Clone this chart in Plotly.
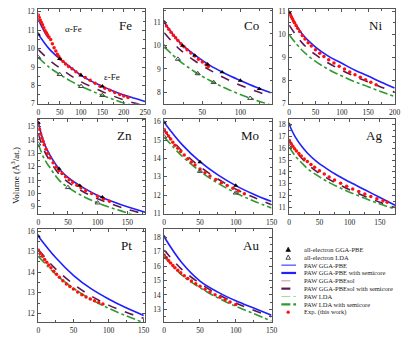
import plotly.graph_objects as go

W, H = 403, 338

# ---------------- data (pressure in GPa, volume in A^3/atom) ----------------
# Fe
fe_p = [0, 25, 50, 75, 100, 125, 150, 175, 200, 225, 250]
fe_pbe = [10.78, 10.0, 9.45, 9.0, 8.55, 8.22, 7.95, 7.7, 7.48, 7.3, 7.13]
fe_pbesol = [9.95, 9.4, 8.95, 8.55, 8.2, 7.92, 7.66, 7.43, 7.22, 7.04, 6.9]
fe_lda = [9.52, 9.0, 8.6, 8.25, 7.95, 7.7, 7.46, 7.25, 7.05, 6.88, 6.72]
fe_alpha_p = [0, 9, 18, 25]
fe_alpha_pbe = [11.6, 11.15, 10.78, 10.55]
fe_ae_p = [0, 50, 100, 150]
fe_ae_pbe = [10.78, 9.45, 8.55, 7.95]
fe_ae_lda = [9.52, 8.6, 7.95, 7.46]
fe_exp_p = [0, 2, 4.6, 7, 10, 13, 16, 19, 21.5, 25, 29, 33, 37, 41, 44.6, 48, 52, 58, 64, 71,
            79, 88, 98, 110, 121.5, 133, 144.6, 156, 167.7, 179, 190.8, 200, 210]
fe_exp_v = [11.82, 11.7, 11.56, 11.43, 11.3, 11.14, 10.97, 10.86, 10.76, 10.63, 10.5, 10.27, 10.05,
            9.87, 9.7, 9.57, 9.43, 9.3, 9.16, 9.03, 8.9, 8.75, 8.6, 8.43, 8.28, 8.12, 7.96, 7.85,
            7.74, 7.62, 7.51, 7.43, 7.35]

# Co
co_p = [0, 20, 40, 60, 80, 100, 120, 140]
co_pbe = [11.0, 10.15, 9.6, 9.15, 8.8, 8.5, 8.22, 7.98]
co_pbesol = [10.55, 9.85, 9.35, 8.95, 8.6, 8.3, 8.05, 7.82]
co_lda = [9.95, 9.35, 8.88, 8.5, 8.18, 7.9, 7.66, 7.45]
co_ae_p = [0, 24, 40, 57, 76, 100, 125]
co_ae_pbe = [11.0, 10.0, 9.58, 9.2, 8.86, 8.5, 8.14]
co_ael_p = [0, 18, 44, 65, 113]
co_ae_lda = [9.95, 9.42, 8.8, 8.42, 7.74]
co_exp_p = [0, 3, 6, 9, 12, 15, 18, 22, 26, 30, 35, 40, 45, 50, 55, 58]
co_exp_v = [11.0, 10.84, 10.7, 10.57, 10.45, 10.34, 10.22, 10.08, 9.95, 9.82, 9.68, 9.55, 9.42,
            9.3, 9.18, 9.1]

# Ni
ni_p = [0, 25, 50, 75, 100, 125, 150, 175, 200]
ni_pbe = [10.97, 10.0, 9.45, 9.05, 8.75, 8.45, 8.2, 7.93, 7.68]
ni_pbesol = [10.4, 9.62, 9.12, 8.75, 8.45, 8.18, 7.95, 7.72, 7.5]
ni_lda = [9.98, 9.3, 8.83, 8.48, 8.2, 7.95, 7.74, 7.52, 7.32]
ni_ae_p = [0]
ni_ae_pbe = [10.95]
ni_exp_p = [0, 2, 4, 6, 8, 10, 13, 16, 20, 25, 30, 36, 42, 50, 58, 66, 75, 85, 95, 105, 115,
            125, 135, 145, 155, 165]
ni_exp_v = [10.94, 10.85, 10.76, 10.67, 10.58, 10.5, 10.38, 10.26, 10.12, 9.95, 9.8, 9.64, 9.5,
            9.33, 9.18, 9.04, 8.9, 8.76, 8.62, 8.5, 8.38, 8.26, 8.15, 8.04, 7.93, 7.82]

# Zn
zn_p = [0, 10, 20, 35, 50, 75, 100, 125, 150, 180]
zn_pbe = [15.3, 13.75, 12.85, 11.85, 11.2, 10.45, 9.85, 9.4, 9.0, 8.6]
zn_pbesol = [14.45, 13.2, 12.4, 11.45, 10.85, 10.15, 9.6, 9.18, 8.82, 8.45]
zn_lda = [13.7, 12.6, 11.9, 11.0, 10.45, 9.8, 9.3, 8.9, 8.55, 8.2]
zn_ae_p = [0, 35, 70, 108]
zn_ae_pbe = [15.3, 11.85, 10.58, 9.72]
zn_ael_p = [0, 50, 100]
zn_ae_lda = [13.7, 10.45, 9.3]
zn_exp_p = [0, 2, 4, 6, 8, 10, 13, 16, 20, 25, 30, 35, 40, 46, 52, 58, 65, 72, 80, 90, 100,
            110, 120]
zn_exp_v = [15.2, 14.8, 14.45, 14.15, 13.9, 13.65, 13.3, 13.0, 12.65, 12.3, 11.98, 11.72, 11.5,
            11.25, 11.03, 10.83, 10.62, 10.43, 10.23, 10.0, 9.8, 9.6, 9.42]

# Mo
mo_p = [0, 25, 50, 75, 100, 125, 150]
mo_pbe = [15.96, 14.75, 13.82, 13.1, 12.52, 12.05, 11.65]
mo_pbesol = [15.5, 14.4, 13.55, 12.88, 12.33, 11.88, 11.48]
mo_lda = [15.17, 14.12, 13.3, 12.65, 12.12, 11.68, 11.3]
mo_ae_p = [0, 50, 100]
mo_ae_pbe = [15.96, 13.8, 12.52]
mo_ae_lda = [15.17, 13.3, 12.12]
mo_exp_p = [0, 3, 6, 9, 12, 15, 19, 23, 28, 33, 38, 43, 50, 57, 64, 72, 80, 88, 96, 104, 112]
mo_exp_v = [15.58, 15.4, 15.22, 15.05, 14.88, 14.72, 14.55, 14.38, 14.18, 13.98, 13.8, 13.64,
            13.42, 13.22, 13.04, 12.85, 12.68, 12.52, 12.37, 12.22, 12.08]

# Ag
ag_p = [0, 10, 20, 30, 45, 60, 80, 100, 125, 150, 175]
ag_pbe = [18.0, 16.95, 16.2, 15.6, 14.9, 14.35, 13.7, 13.15, 12.5, 11.85, 11.2]
ag_pbesol = [16.75, 15.85, 15.2, 14.68, 14.05, 13.55, 13.0, 12.5, 11.95, 11.45, 11.0]
ag_lda = [16.1, 15.35, 14.8, 14.3, 13.75, 13.28, 12.75, 12.3, 11.78, 11.3, 10.88]
ag_ae_p = [0]
ag_ae_pbe = [18.0]
ag_ae_lda = [16.1]
ag_exp_p = [0, 3, 6, 9, 12, 16, 20, 25, 30, 36, 42, 50, 58, 66, 75, 85, 95, 105, 115, 125, 135,
            145, 155, 162]
ag_exp_v = [16.65, 16.4, 16.17, 15.96, 15.77, 15.55, 15.35, 15.1, 14.88, 14.63, 14.4, 14.1,
            13.83, 13.58, 13.32, 13.05, 12.8, 12.57, 12.35, 12.14, 11.94, 11.75, 11.57, 11.45]

# Pt
pt_p = [0, 25, 50, 75, 100, 125, 150]
pt_pbe = [15.75, 14.7, 13.85, 13.2, 12.7, 12.27, 11.9]
pt_pbesol = [15.1, 14.15, 13.42, 12.85, 12.4, 12.05, 11.76]
pt_lda = [14.77, 13.9, 13.22, 12.68, 12.25, 11.88, 11.55]
pt_ae_p = [0]
pt_ae_pbe = [15.75]
pt_ae_lda = [14.8]
pt_exp_p = [0, 3, 6, 9, 12, 15, 18, 22, 26, 30, 35, 40, 45, 50, 56, 62, 68, 74, 80, 86, 92]
pt_exp_v = [15.08, 14.92, 14.77, 14.62, 14.48, 14.35, 14.22, 14.05, 13.9, 13.75, 13.58, 13.43,
            13.3, 13.18, 13.04, 12.91, 12.8, 12.7, 12.61, 12.53, 12.46]

# Au
au_p = [0, 25, 50, 75, 100, 125, 150]
au_pbe = [18.0, 16.2, 14.96, 14.2, 13.6, 13.1, 12.6]
au_pbesol = [17.1, 15.75, 14.8, 14.05, 13.45, 12.95, 12.5]
au_lda = [16.65, 15.35, 14.5, 13.8, 13.22, 12.72, 12.2]
au_ae_p = [0]
au_ae_pbe = [18.0]
au_ae_lda = [16.65]
au_exp_p = [0, 3, 6, 9, 12, 15, 19, 23, 28, 33, 38, 44, 50, 57, 64, 71, 78, 85, 92, 100]
au_exp_v = [16.76, 16.57, 16.38, 16.2, 16.03, 15.88, 15.7, 15.53, 15.33, 15.14, 14.97, 14.78,
            14.6, 14.4, 14.2, 14.02, 13.85, 13.68, 13.52, 13.35]

elements = ["Fe", "Co", "Ni", "Zn", "Mo", "Ag", "Pt", "Au"]
legend_labels = ["all-electron GGA-PBE", "all-electron LDA", "PAW GGA-PBE",
                 "PAW GGA-PBE with semicore", "PAW GGA-PBEsol",
                 "PAW GGA-PBEsol with semicore", "PAW LDA", "PAW LDA with semicore",
                 "Exp. (this work)"]

# ---------------- styles ----------------
BLUE = "#1f1fff"
PURPLE = "#5e1a50"
PURPLE_L = "#c88ac8"
GREEN = "#2f9a2f"
GREEN_L = "#9fdc9f"
RED = "#ff1010"
FONT = "Liberation Serif"

# ---------------- layout geometry (pixels) ----------------
cols = [(37, 146), (165.5, 275), (293, 401)]
rows = [(7, 104), (119, 216), (232, 327)]


def xdom(c):
    return [cols[c][0] / W, cols[c][1] / W]


def ydom(r):
    return [1 - rows[r][1] / H, 1 - rows[r][0] / H]


panels = [
    dict(r=0, c=0, xr=[0, 250], yr=[7, 12.16],
         p=fe_p, pbe=fe_pbe, pbesol=fe_pbesol, lda=fe_lda,
         aep=fe_ae_p, aepbe=fe_ae_pbe, aelp=fe_ae_p, aelda=fe_ae_lda,
         ep=fe_exp_p, ev=fe_exp_v),
    dict(r=0, c=1, xr=[0, 141], yr=[7.5, 11.58],
         p=co_p, pbe=co_pbe, pbesol=co_pbesol, lda=co_lda,
         aep=co_ae_p, aepbe=co_ae_pbe, aelp=co_ael_p, aelda=co_ae_lda,
         ep=co_exp_p, ev=co_exp_v),
    dict(r=0, c=2, xr=[0, 201], yr=[7, 11.1],
         p=ni_p, pbe=ni_pbe, pbesol=ni_pbesol, lda=ni_lda,
         aep=ni_ae_p, aepbe=ni_ae_pbe, aelp=[], aelda=[],
         ep=ni_exp_p, ev=ni_exp_v),
    dict(r=1, c=0, xr=[0, 180], yr=[8.5, 15.6],
         p=zn_p, pbe=zn_pbe, pbesol=zn_pbesol, lda=zn_lda,
         aep=zn_ae_p, aepbe=zn_ae_pbe, aelp=zn_ael_p, aelda=zn_ae_lda,
         ep=zn_exp_p, ev=zn_exp_v),
    dict(r=1, c=1, xr=[0, 150], yr=[11, 16.17],
         p=mo_p, pbe=mo_pbe, pbesol=mo_pbesol, lda=mo_lda,
         aep=mo_ae_p, aepbe=mo_ae_pbe, aelp=mo_ae_p, aelda=mo_ae_lda,
         ep=mo_exp_p, ev=mo_exp_v),
    dict(r=1, c=2, xr=[0, 175], yr=[10.5, 18.5],
         p=ag_p, pbe=ag_pbe, pbesol=ag_pbesol, lda=ag_lda,
         aep=ag_ae_p, aepbe=ag_ae_pbe, aelp=ag_ae_p, aelda=ag_ae_lda,
         ep=ag_exp_p, ev=ag_exp_v),
    dict(r=2, c=0, xr=[0, 152], yr=[11.57, 16.09],
         p=pt_p, pbe=pt_pbe, pbesol=pt_pbesol, lda=pt_lda,
         aep=pt_ae_p, aepbe=pt_ae_pbe, aelp=pt_ae_p, aelda=pt_ae_lda,
         ep=pt_exp_p, ev=pt_exp_v),
    dict(r=2, c=1, xr=[0, 150], yr=[12.12, 18.54],
         p=au_p, pbe=au_pbe, pbesol=au_pbesol, lda=au_lda,
         aep=au_ae_p, aepbe=au_ae_pbe, aelp=au_ae_p, aelda=au_ae_lda,
         ep=au_exp_p, ev=au_exp_v),
]

fig = go.Figure()
layout = dict(width=W, height=H, margin=dict(l=0, r=0, t=0, b=0),
              paper_bgcolor="white", plot_bgcolor="white", showlegend=False,
              font=dict(family=FONT, size=7.5, color="#222"))
annotations = []
shapes = []

for i, (name, pn) in enumerate(zip(elements, panels)):
    k = "" if i == 0 else str(i + 1)
    xa, ya = "x" + k, "y" + k
    common = dict(showline=True, linecolor="#555", linewidth=1, mirror="ticks",
                  ticks="inside", ticklen=3, tickcolor="#555", showgrid=False,
                  zeroline=False, tickfont=dict(family=FONT, size=7.5, color="#222"))
    layout["xaxis" + k] = dict(domain=xdom(pn["c"]), anchor=ya, range=pn["xr"],
                               tick0=0, dtick=50,
                               minor=dict(dtick=25, ticks="inside", ticklen=2,
                                          tickcolor="#555"),
                               ticklabelstandoff=1, **common)
    layout["yaxis" + k] = dict(domain=ydom(pn["r"]), anchor=xa, range=pn["yr"],
                               tick0=0, dtick=1,
                               minor=dict(dtick=0.5, ticks="inside", ticklen=2,
                                          tickcolor="#555"),
                               ticklabelstandoff=1, **common)

    if name == "Fe":
        fig.add_trace(go.Scatter(x=fe_alpha_p, y=fe_alpha_pbe, mode="lines", xaxis=xa, yaxis=ya,
                                 line=dict(color=BLUE, width=1.6, shape="spline")))
    fig.add_trace(go.Scatter(x=pn["p"], y=pn["lda"], mode="lines", xaxis=xa, yaxis=ya,
                             line=dict(color=GREEN, width=1.6, dash="dashdot", shape="spline")))
    fig.add_trace(go.Scatter(x=pn["p"], y=pn["pbesol"], mode="lines", xaxis=xa, yaxis=ya,
                             line=dict(color=PURPLE, width=1.6, dash="dash", shape="spline")))
    fig.add_trace(go.Scatter(x=pn["p"], y=pn["pbe"], mode="lines", xaxis=xa, yaxis=ya,
                             line=dict(color=BLUE, width=1.6, shape="spline")))
    fig.add_trace(go.Scatter(x=pn["ep"], y=pn["ev"], mode="markers", xaxis=xa, yaxis=ya,
                             marker=dict(color=RED, size=3.5, line=dict(width=0))))
    if pn["aelp"]:
        fig.add_trace(go.Scatter(x=pn["aelp"], y=pn["aelda"], mode="markers", xaxis=xa, yaxis=ya,
                                 marker=dict(symbol="triangle-up-open", color="#444", size=4.5,
                                             line=dict(width=1))))
    fig.add_trace(go.Scatter(x=pn["aep"], y=pn["aepbe"], mode="markers", xaxis=xa, yaxis=ya,
                             marker=dict(symbol="triangle-up", color="black", size=4.5)))

    annotations.append(dict(text=name, xref=xa + " domain", yref=ya + " domain",
                            x=0.9, y=0.82, xanchor="right", yanchor="middle", showarrow=False,
                            font=dict(family=FONT, size=13, color="#111")))

annotations.append(dict(text="α-Fe", xref="x domain", yref="y domain", x=0.23, y=0.79,
                        xanchor="left", yanchor="middle", showarrow=False,
                        font=dict(family=FONT, size=9, color="#111")))
annotations.append(dict(text="ε-Fe", xref="x domain", yref="y domain", x=0.6, y=0.28,
                        xanchor="left", yanchor="middle", showarrow=False,
                        font=dict(family=FONT, size=9, color="#111")))
annotations.append(dict(text="Volume (Å<sup>3</sup>/at.)", xref="paper", yref="paper",
                        x=14 / W, y=1 - 177 / H, textangle=-90, showarrow=False,
                        xanchor="center", yanchor="middle",
                        font=dict(family=FONT, size=9, color="#111")))

# ---------------- hand-built legend ----------------
leg_y0, leg_dy = 252.7, 8.0
sx0, sx1, tx = 285, 300, 306
leg_styles = [
    ("tri", "black"), ("tri_open", "#333"),
    ("line", dict(color=BLUE, width=1, dash="solid")),
    ("line", dict(color=BLUE, width=2.2, dash="solid")),
    ("line", dict(color=PURPLE_L, width=1, dash="dash")),
    ("line", dict(color=PURPLE, width=2.2, dash="dash")),
    ("line", dict(color=GREEN_L, width=1, dash="dashdot")),
    ("line", dict(color=GREEN, width=2.2, dash="dashdot")),
    ("dot", RED),
]
for j, (lab, (kind, sty)) in enumerate(zip(legend_labels, leg_styles)):
    yc = leg_y0 + j * leg_dy
    if kind == "line":
        shapes.append(dict(type="line", xref="paper", yref="paper",
                           x0=sx0 / W, x1=sx1 / W, y0=1 - yc / H, y1=1 - yc / H, line=sty))
    elif kind in ("tri", "tri_open"):
        cx = 292
        path = "M {:.5f},{:.5f} L {:.5f},{:.5f} L {:.5f},{:.5f} Z".format(
            (cx - 2.3) / W, 1 - (yc + 2) / H, (cx + 2.3) / W, 1 - (yc + 2) / H,
            cx / W, 1 - (yc - 2.3) / H)
        shapes.append(dict(type="path", xref="paper", yref="paper", path=path,
                           fillcolor=sty if kind == "tri" else "white",
                           line=dict(color="#222", width=0.8)))
    else:
        cx = 292
        shapes.append(dict(type="circle", xref="paper", yref="paper",
                           x0=(cx - 1.7) / W, x1=(cx + 1.7) / W,
                           y0=1 - (yc + 1.7) / H, y1=1 - (yc - 1.7) / H,
                           fillcolor=sty, line=dict(width=0)))
    annotations.append(dict(text=lab, xref="paper", yref="paper", x=tx / W, y=1 - yc / H,
                            xanchor="left", yanchor="middle", showarrow=False,
                            font=dict(family=FONT, size=6.5, color="#222")))

layout["annotations"] = annotations
layout["shapes"] = shapes
fig.update_layout(**layout)
fig.write_html("out.html")
